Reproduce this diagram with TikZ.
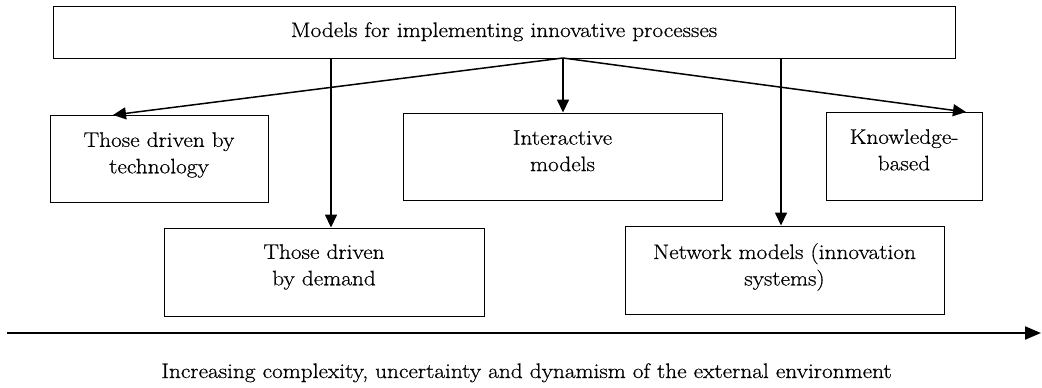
\documentclass[tikz,border=0pt]{standalone}
\usepackage{fontspec}
\setmainfont[FakeStretch=1.11,FakeBold=0.6]{Latin Modern Roman}
\usetikzlibrary{arrows.meta}
\begin{document}
\begin{tikzpicture}[x=1pt,y=-1pt,
  txt/.style={inner sep=0pt,font=\fontsize{21}{26.5}\selectfont},
  box/.style={draw=black,line width=0.9pt,rectangle,inner sep=0pt},
  lbl/.style={txt,align=center,anchor=north},
  arr/.style={line width=1.5pt,-{Triangle[length=13pt,width=12pt]}},
  axis/.style={line width=2.2pt,-{Triangle[length=16pt,width=13pt]}}]
\useasboundingbox (0,0) rectangle (1042,388);
% top box
\node[box,minimum width=902pt,minimum height=52pt] (top) at (504,32) {};
\node[txt,anchor=base] (toptxt) at (504,37) {Models for implementing innovative processes};
% boxes
\node[box,minimum width=218pt,minimum height=87pt] (tech) at (159,158.5) {};
\node[lbl] (techtxt) at ([yshift=-17.5pt]tech.north) {Those driven by\\technology};
\node[box,minimum width=319pt,minimum height=87pt] (inter) at (562.5,156.5) {};
\node[lbl] (intertxt) at ([yshift=-17.5pt]inter.north) {Interactive\\models};
\node[box,minimum width=156pt,minimum height=88pt] (know) at (904,156) {};
\node[lbl] (knowtxt) at ([yshift=-17.5pt]know.north) {Knowledge-\\based};
\node[box,minimum width=320pt,minimum height=88pt] (dem) at (324,272) {};
\node[lbl] (demtxt) at ([yshift=-16.5pt]dem.north) {Those driven\\by demand};
\node[box,minimum width=319pt,minimum height=88pt] (net) at (784.5,270) {};
\node[lbl] (nettxt) at ([yshift=-17.5pt]net.north) {Network models (innovation\\systems)};
% connectors
\coordinate (hub) at (563,58);
\coordinate (techtip) at (113,115);
\coordinate (knowtip) at (966,112);
\draw[arr] (hub) -- (techtip);
\draw[arr] (hub) -- (hub |- inter.north);
\draw[arr] (hub) -- (knowtip);
\draw[arr] (top.south -| 331,0) -- (dem.north -| 331,0);
\draw[arr] (top.south -| 781,0) -- (net.north -| 781,0);
% axis
\coordinate (axL) at (7,333);
\coordinate (axR) at (1041,333);
\draw[axis] (axL) -- (axR);
\node[txt,anchor=base] (axtxt) at (526.5,378) {Increasing complexity, uncertainty and dynamism of the external environment};
\end{tikzpicture}
\end{document}
